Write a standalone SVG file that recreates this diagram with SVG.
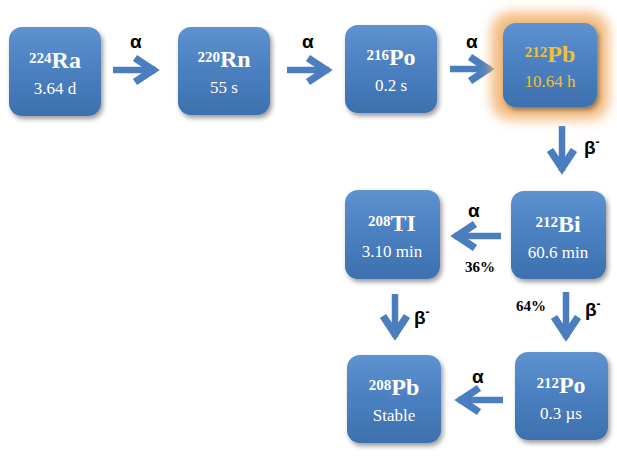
<svg xmlns="http://www.w3.org/2000/svg" width="617" height="458" viewBox="0 0 617 458">
<defs>
<linearGradient id="bg" x1="0" y1="0" x2="0" y2="1">
<stop offset="0" stop-color="#5e92d0"/>
<stop offset="0.45" stop-color="#4c81c2"/>
<stop offset="1" stop-color="#3d70ae"/>
</linearGradient>
<filter id="sh" x="-20%" y="-20%" width="150%" height="150%">
<feGaussianBlur in="SourceAlpha" stdDeviation="2.5"/>
<feOffset dx="2" dy="3" result="b"/>
<feComponentTransfer><feFuncA type="linear" slope="0.4"/></feComponentTransfer>
<feMerge><feMergeNode/><feMergeNode in="SourceGraphic"/></feMerge>
</filter>
<filter id="glow" x="-40%" y="-40%" width="180%" height="180%">
<feGaussianBlur stdDeviation="6"/>
</filter>
<marker id="ah" viewBox="-30 -16 36 32" refX="0" refY="0" markerWidth="36" markerHeight="32" orient="auto" markerUnits="userSpaceOnUse">
<path d="M-21,-12 L-3,0 L-21,12" fill="none" stroke="#4a7ebe" stroke-width="7.5" stroke-linejoin="miter" stroke-miterlimit="10"/>
</marker>
</defs>
<style>
.box{fill:url(#bg);filter:url(#sh)}
.nuc{font-family:"Liberation Serif",serif;font-weight:bold;font-size:24px;fill:#fff;text-anchor:middle}
.sup{font-size:15px}
.hl{font-family:"Liberation Serif",serif;font-size:17px;fill:#fff;text-anchor:middle}
.gold{fill:#f2c12e}
.arr{stroke:#4a7ebe;stroke-width:6.5;fill:none;marker-end:url(#ah)}
.lbl{font-family:"Liberation Sans",sans-serif;font-weight:bold;font-size:19px;fill:#000}
.pct{font-family:"Liberation Serif",serif;font-weight:bold;font-size:15px;fill:#000}
</style>
<g id="connectors">
<line class="arr" x1="113" y1="70" x2="156" y2="70"/>
<line class="arr" x1="287" y1="70" x2="329" y2="70"/>
<line class="arr" x1="450" y1="69" x2="491" y2="69"/>
<line class="arr" x1="562" y1="126" x2="562" y2="171"/>
<line class="arr" x1="501" y1="236" x2="454" y2="236"/>
<line class="arr" x1="395" y1="294" x2="395" y2="337"/>
<line class="arr" x1="566" y1="292" x2="566" y2="338"/>
<line class="arr" x1="503" y1="400" x2="458" y2="400"/>
<text class="lbl" x="130" y="48">α</text>
<text class="lbl" x="302" y="48">α</text>
<text class="lbl" x="466" y="48">α</text>
<text class="lbl" x="584" y="154">β<tspan font-size="12" dy="-8">-</tspan></text>
<text class="lbl" x="468" y="217">α</text>
<text class="pct" x="465" y="272">36%</text>
<text class="lbl" x="414" y="324">β<tspan font-size="12" dy="-8">-</tspan></text>
<text class="pct" x="516" y="311">64%</text>
<text class="lbl" x="585" y="316">β<tspan font-size="12" dy="-8">-</tspan></text>
<text class="lbl" x="472" y="383">α</text>
</g>
<g id="ra224">
<rect class="box" x="9" y="27" width="92" height="89" rx="13"/>
<text class="nuc" x="55" y="68"><tspan class="sup" dy="-5">224</tspan><tspan dy="5">Ra</tspan></text>
<text class="hl" x="55" y="94">3.64 d</text>
</g>
<g id="rn220">
<rect class="box" x="178" y="27" width="92" height="88" rx="13"/>
<text class="nuc" x="224" y="67"><tspan class="sup" dy="-5">220</tspan><tspan dy="5">Rn</tspan></text>
<text class="hl" x="224" y="93">55 s</text>
</g>
<g id="po216">
<rect class="box" x="345" y="25" width="92" height="88" rx="13"/>
<text class="nuc" x="391" y="65"><tspan class="sup" dy="-5">216</tspan><tspan dy="5">Po</tspan></text>
<text class="hl" x="391" y="91">0.2 s</text>
</g>
<g id="pb212">
<rect x="491" y="12" width="118" height="108" rx="20" fill="#f3b676" opacity="0.9" filter="url(#glow)"/>
<rect class="box" x="503" y="23" width="94" height="84" rx="13"/>
<text class="nuc gold" x="550" y="62"><tspan class="sup" dy="-5">212</tspan><tspan dy="5">Pb</tspan></text>
<text class="hl gold" x="550" y="87">10.64 h</text>
</g>
<g id="bi212">
<rect class="box" x="511" y="191" width="95" height="88" rx="13"/>
<text class="nuc" x="558" y="232"><tspan class="sup" dy="-5">212</tspan><tspan dy="5">Bi</tspan></text>
<text class="hl" x="558" y="258">60.6 min</text>
</g>
<g id="tl208">
<rect class="box" x="345" y="190" width="95" height="89" rx="13"/>
<text class="nuc" x="392" y="231"><tspan class="sup" dy="-5">208</tspan><tspan dy="5">TI</tspan></text>
<text class="hl" x="392" y="257">3.10 min</text>
</g>
<g id="po212">
<rect class="box" x="515" y="352" width="93" height="88" rx="13"/>
<text class="nuc" x="561" y="393"><tspan class="sup" dy="-5">212</tspan><tspan dy="5">Po</tspan></text>
<text class="hl" x="561" y="419">0.3 µs</text>
</g>
<g id="pb208">
<rect class="box" x="347" y="355" width="94" height="88" rx="13"/>
<text class="nuc" x="394" y="395"><tspan class="sup" dy="-5">208</tspan><tspan dy="5">Pb</tspan></text>
<text class="hl" x="394" y="421">Stable</text>
</g>
</svg>
